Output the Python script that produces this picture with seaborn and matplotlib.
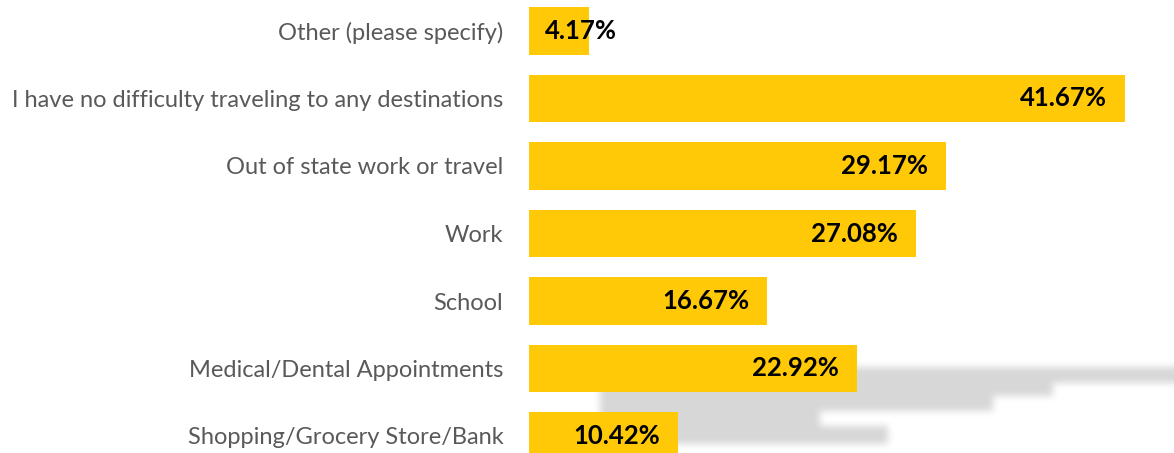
import numpy as np
import pandas as pd
import matplotlib
matplotlib.use("Agg")
import matplotlib.pyplot as plt
import seaborn as sns

categories = [
    "Other (please specify)",
    "I have no difficulty traveling to any destinations",
    "Out of state work or travel",
    "Work",
    "School",
    "Medical/Dental Appointments",
    "Shopping/Grocery Store/Bank",
]
percentages = [4.17, 41.67, 29.17, 27.08, 16.67, 22.92, 10.42]
value_labels = ["4.17%", "41.67%", "29.17%", "27.08%", "16.67%", "22.92%", "10.42%"]

df = pd.DataFrame({"category": categories, "pct": percentages})

sns.set_theme(style="white")
plt.rcParams["font.family"] = ["Lato", "DejaVu Sans"]

W, H = 1174, 453
fig = plt.figure(figsize=(W / 100, H / 100), dpi=100)

# soft grey reflection in the lower right corner
bg = fig.add_axes([0, 0, 1, 1])
bg.set_axis_off()
bands = [(367, 383, 600, W + 40), (383, 396, 600, 1053), (396, 411, 600, 993),
         (411, 426, 600, 820), (426, 444, 600, 888)]
pad = 40
big = np.ones((H + 2 * pad, W + 2 * pad))
for y0, y1, x0, x1 in bands:
    big[y0 + pad:y1 + pad, x0 + pad:min(x1, W + pad) + pad] = 0.84
k = 7
kern = np.ones(k) / k
for _ in range(3):
    big = np.apply_along_axis(lambda r: np.convolve(r, kern, mode="same"), 1, big)
    big = np.apply_along_axis(lambda c: np.convolve(c, kern, mode="same"), 0, big)
img = big[pad:pad + H, pad:pad + W]
bg.imshow(img, cmap="gray", vmin=0, vmax=1, extent=[0, W, H, 0], aspect="auto",
          interpolation="bilinear")
bg.set_xlim(0, W)
bg.set_ylim(H, 0)

# main bar chart
px_per_pct = (1125 - 529) / 41.67
row = 67.5
ax = fig.add_axes([529 / W, 0, (W - 529) / W, 1])
ax.patch.set_alpha(0)
sns.barplot(data=df, x="pct", y="category", orient="h", color="#FFC907",
            saturation=1, width=0.70, linewidth=0, ax=ax)
ax.set_xlim(0, (W - 529) / px_per_pct)
ytop = -31 / row
ax.set_ylim(ytop + H / row, ytop)
for s in ax.spines.values():
    s.set_visible(False)
ax.set_xticks([])
ax.set_xlabel("")
ax.set_ylabel("")
ax.tick_params(axis="y", length=0, pad=18.5, labelsize=17, labelcolor="#595959")

for i, (v, lab) in enumerate(zip(percentages, value_labels)):
    if v < 8:
        ax.annotate(lab, xy=(0, i), xytext=(16, 0), textcoords="offset pixels",
                    ha="left", va="center", fontsize=18.5, fontweight="bold",
                    color="black")
    else:
        ax.annotate(lab, xy=(v, i), xytext=(-18, 0), textcoords="offset pixels",
                    ha="right", va="center", fontsize=18.5, fontweight="bold",
                    color="black")

fig.savefig("out.png", dpi=100)
